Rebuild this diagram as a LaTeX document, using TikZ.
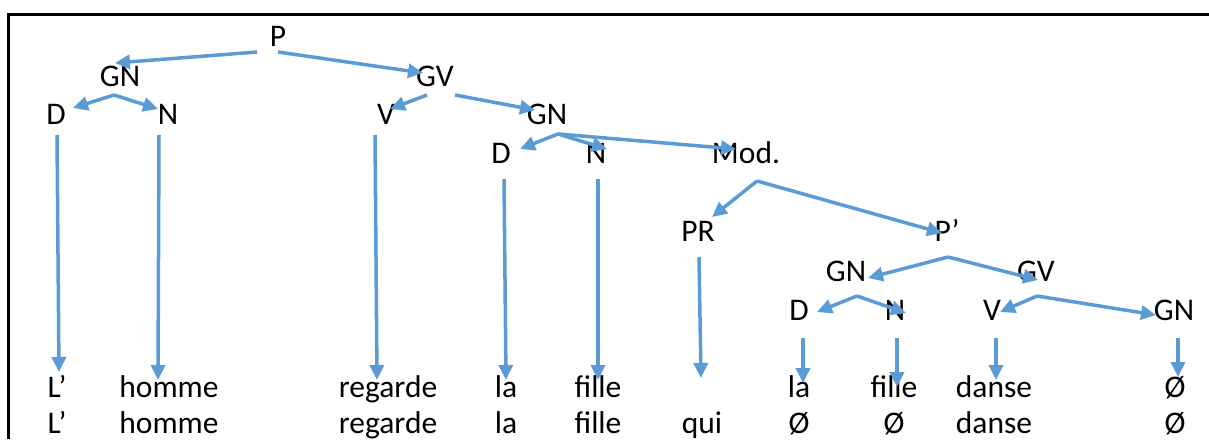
\documentclass[tikz,border=0pt]{standalone}
\usepackage{fontspec}
\setmainfont{Carlito}
\usetikzlibrary{arrows.meta}
\definecolor{arrblue}{RGB}{91,155,213}
\tikzset{
  lbl/.style={anchor=base, inner sep=0pt, font=\fontsize{31.5}{36}\selectfont},
  arr/.style={draw=arrblue, line width=3.5pt, -{Triangle[length=15pt, width=14pt]}}
}
\begin{document}
\begin{tikzpicture}[x=1pt, y=-1pt]
\useasboundingbox (0,0) rectangle (1209,439);
\draw[line width=3pt] (8,439) -- (8,14) -- (1209,14); %frame, top and left only

%tree labels
\node[lbl] (p) at (278,46) {P};
\node[lbl] (gnA) at (120,86) {GN};
\node[lbl] (gvA) at (435,86) {GV};
\node[lbl] (dA) at (56,124) {D};
\node[lbl] (nA) at (168,124) {N};
\node[lbl] (vA) at (386,124) {V};
\node[lbl] (gnB) at (547,124) {GN};
\node[lbl] (dB) at (501,163) {D};
\node[lbl] (nB) at (596,163) {N};
\node[lbl] (mod) at (746,163) {Mod.};
\node[lbl] (pr) at (698,241) {PR};
\node[lbl] (pp) at (947,241) {P’};
\node[lbl] (gnC) at (846,281) {GN};
\node[lbl] (gvC) at (1036,281) {GV};
\node[lbl] (dC) at (799,320) {D};
\node[lbl] (nC) at (895,320) {N};
\node[lbl] (vC) at (992,320) {V};
\node[lbl] (gnD) at (1174,320) {GN};

%first row of words
\node[lbl] (lq1) at (57,397) {L’};
\node[lbl] (homme1) at (169,397) {homme};
\node[lbl] (regarde1) at (388,397) {regarde};
\node[lbl] (la1) at (506,397) {la};
\node[lbl] (fille1) at (598,397) {fille};
\coordinate (qui1) at (701,378); %no word here, the arrow points to nothing
\node[lbl] (laB1) at (799,397) {la};
\node[lbl] (filleB1) at (894,397) {fille};
\node[lbl] (danse1) at (994,397) {danse};
\node[lbl] (zero1) at (1175,397) {Ø};

%second row of words
\node[lbl] (lq2) at (57,433) {L’};
\node[lbl] (homme2) at (169,433) {homme};
\node[lbl] (regarde2) at (388,433) {regarde};
\node[lbl] (la2) at (506,433) {la};
\node[lbl] (fille2) at (598,433) {fille};
\node[lbl] (qui2) at (702,433) {qui};
\node[lbl] (zeroA2) at (799,433) {Ø};
\node[lbl] (zeroB2) at (894,433) {Ø};
\node[lbl] (danse2) at (994,433) {danse};
\node[lbl] (zero2) at (1175,433) {Ø};

%branches
\draw[arr] ([shift={(-21,6)}]p.base) -- ([shift={(-5,-23)}]gnA.base);
\draw[arr] ([shift={(0,6)}]p.base) -- ([shift={(-12,-13)}]gvA.base);
\draw[arr] ([shift={(-6,9)}]gnA.base) -- ([shift={(17,-16)}]dA.base);
\draw[arr] ([shift={(-6,9)}]gnA.base) -- ([shift={(-10,-15)}]nA.base);
\draw[arr] ([shift={(-8,9)}]gvA.base) -- ([shift={(4,-15)}]vA.base);
\draw[arr] ([shift={(20,9)}]gvA.base) -- ([shift={(-12,-14)}]gnB.base);
\draw[arr] ([shift={(11,10)}]gnB.base) -- ([shift={(19,-14)}]dB.base);
\draw[arr] ([shift={(11,10)}]gnB.base) -- ([shift={(11,-14)}]nB.base);
\draw[arr] ([shift={(11,10)}]gnB.base) -- ([shift={(-10,-14)}]mod.base);
\draw[arr] ([shift={(11,18)}]mod.base) -- ([shift={(14,-24)}]pr.base);
\draw[arr] ([shift={(11,18)}]mod.base) -- ([shift={(-5,-8)}]pp.base);
\draw[arr] ([shift={(1,16)}]pp.base) -- ([shift={(22,-3)}]gnC.base);
\draw[arr] ([shift={(1,16)}]pp.base) -- ([shift={(2,-1)}]gvC.base);
\draw[arr] ([shift={(11,15)}]gnC.base) -- ([shift={(18,-8)}]dC.base);
\draw[arr] ([shift={(11,15)}]gnC.base) -- ([shift={(11,-7)}]nC.base);
\draw[arr] ([shift={(1,15)}]gvC.base) -- ([shift={(8,-8)}]vC.base);
\draw[arr] ([shift={(1,15)}]gvC.base) -- ([shift={(-18,-5)}]gnD.base);

%down to the words
\draw[arr] ([shift={(1,11)}]dA.base) -- ([shift={(2,-25)}]lq1.base);
\draw[arr] ([shift={(-9,11)}]nA.base) -- ([shift={(-11,-17)}]homme1.base);
\draw[arr] ([shift={(-11,11)}]vA.base) -- ([shift={(-11,-17)}]regarde1.base);
\draw[arr] ([shift={(3,16)}]dB.base) -- ([shift={(0,-17)}]la1.base);
\draw[arr] ([shift={(2,16)}]nB.base) -- ([shift={(0,-17)}]fille1.base);
\draw[arr] ([shift={(1,16)}]pr.base) -- (qui1);
\draw[arr] ([shift={(4,18)}]dC.base) -- ([shift={(4,-14)}]laB1.base);
\draw[arr] ([shift={(2,18)}]nC.base) -- ([shift={(3,-10)}]filleB1.base);
\draw[arr] ([shift={(4,18)}]vC.base) -- ([shift={(2,-17)}]danse1.base);
\draw[arr] ([shift={(4,18)}]gnD.base) -- ([shift={(3,-20)}]zero1.base);
\end{tikzpicture}
\end{document}
